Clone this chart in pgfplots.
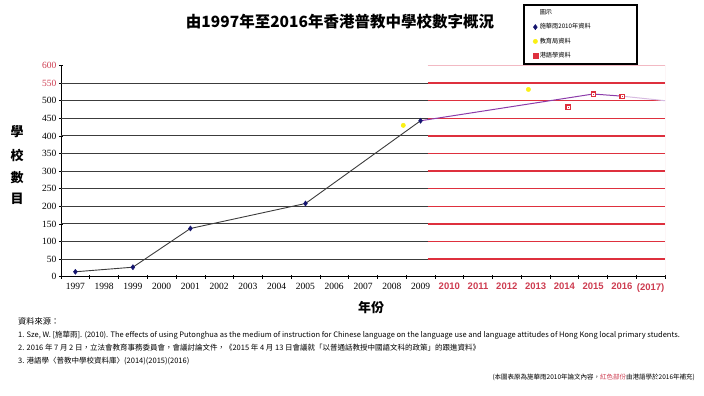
\documentclass[border=0pt]{standalone}
\usepackage{fontspec}
\usepackage{pgfplots}
\pgfplotsset{compat=1.18}
\setmainfont{Noto Sans CJK TC}
\newfontfamily\cjk{Noto Sans CJK TC}
\newfontfamily\tnr{Liberation Serif}
\newfontfamily\lsans{Liberation Sans}
\definecolor{gridred}{RGB}{222,48,62}
\definecolor{lightpink}{RGB}{242,185,195}
\definecolor{darkgrid}{RGB}{60,60,60}
\definecolor{labred}{RGB}{205,60,80}
\definecolor{navyb}{RGB}{20,20,110}
\definecolor{purp}{RGB}{140,60,170}
\definecolor{yel}{RGB}{250,240,20}

\pgfplotstableread{
x y
0 14
2 27
4 137
8 208
12 443
}\szedata
\pgfplotstableread{
x y
12 443
18 519
19 513
}\purpdata
\pgfplotstableread{
x y
19 513
20.5 500
}\purpfade
\pgfplotstableread{
x y
11.4 430
15.75 532
}\edbdata
\pgfplotstableread{
x y
17.13 482
18 519
19 513
}\hkdata

\begin{document}
\begin{tikzpicture}[x=1pt,y=-1pt]
\useasboundingbox (0,0) rectangle (704,396);
\begin{axis}[
  at={(61pt,-276.7pt)}, anchor=south west,
  width=604pt, height=211.2pt, scale only axis,
  xmin=-0.5, xmax=20.5, ymin=0, ymax=600,
  axis x line*=bottom, axis y line*=left,
  axis line style={-, black, line width=0.8pt},
  xtick={0,...,20},
  xticklabels={1997,1998,1999,2000,2001,2002,2003,2004,2005,2006,2007,2008,2009,
    \textcolor{labred}{\lsans\bfseries 2010},\textcolor{labred}{\lsans\bfseries 2011},
    \textcolor{labred}{\lsans\bfseries 2012},\textcolor{labred}{\lsans\bfseries 2013},
    \textcolor{labred}{\lsans\bfseries 2014},\textcolor{labred}{\lsans\bfseries 2015},
    \textcolor{labred}{\lsans\bfseries 2016},\textcolor{labred}{\lsans\bfseries (2017)}},
  ytick={0,50,...,600},
  yticklabels={0,50,100,150,200,250,300,350,400,450,500,\textcolor{labred}{550},\textcolor{labred}{600}},
  minor xtick={-0.5,0.5,...,20.5},
  minor ytick={0,50,...,600},
  major tick length=0pt,
  minor tick length=4pt,
  tick align=center,
  minor tick style={black, line width=0.6pt},
  tick label style={font=\tnr\fontsize{9.5}{10}\selectfont},
  xticklabel style={yshift=-3pt, inner xsep=0pt},
  yticklabel style={xshift=-1pt},
  legend style={at={(0.765,1.291)}, anchor=north west, draw=black, line width=1.5pt,
    font=\cjk\fontsize{6.2}{7}\selectfont, inner sep=3pt, row sep=3.5pt,
    nodes={text width=92pt}},
  legend cell align=left,
  legend image post style={line width=0.4pt},
]
\addlegendimage{empty legend}
\addlegendentry{圖示}
\pgfplotsinvokeforeach{50,100,...,550}{
  \draw[darkgrid, line width=1.1pt] (axis cs:-0.5,#1) -- (axis cs:12.25,#1);
  \draw[gridred, line width=1.3pt] (axis cs:12.25,#1) -- (axis cs:20.5,#1);
}
\draw[lightpink, line width=1pt] (axis cs:12.25,600) -- (axis cs:20.5,600) -- (axis cs:20.5,0);
\addplot[darkgrid, line width=0.9pt, forget plot] table {\szedata};
\addplot[purp, line width=1pt, forget plot] table {\purpdata};
\addplot[purp!35, line width=1pt, forget plot] table {\purpfade};
\addplot[only marks, mark=diamond*, mark size=2.6pt, mark options={fill=navyb, draw=navyb}] table {\szedata};
\addlegendentry{施華雨2010年資料}
\addplot[only marks, mark=*, mark size=2.2pt, mark options={fill=yel, draw=yel}] table {\edbdata};
\addlegendentry{教育局資料}
\addplot[only marks, mark=square*, mark size=2.4pt, mark options={fill=gridred, draw=gridred}] table {\hkdata};
\addlegendentry{港語學資料}
\addplot[only marks, mark=square, mark size=0.9pt, mark options={draw=white, line width=0.3pt}, forget plot] table {\hkdata};
\end{axis}

\node[font=\cjk\bfseries\fontsize{15.5}{16}\selectfont] at (340,21.7) {由1997年至2016年香港普教中學校數字概況};
\foreach \c/\yy in {學/131.7, 校/155, 數/178, 目/199}
  \node[font=\cjk\bfseries\fontsize{13}{13}\selectfont] at (17,\yy) {\c};
\node[font=\cjk\bfseries\fontsize{13}{13}\selectfont] at (371,308) {年份};

\node[anchor=west, inner sep=0pt, font=\cjk\fontsize{8.2}{9}\selectfont] at (18,321) {資料來源：};
\node[anchor=west, inner sep=0pt, font=\cjk\fontsize{7.5}{8}\selectfont] at (18,335) {1. Sze, W. [施華雨]. (2010). The effects of using Putonghua as the medium of instruction for Chinese language on the language use and language attitudes of Hong Kong local primary students.};
\node[anchor=west, inner sep=0pt, font=\cjk\fontsize{7.5}{8}\selectfont] at (18,348) {2. 2016 年 7 月 2 日，立法會教育事務委員會，會議討論文件，《2015 年 4 月 13 日會議就「以普通話教授中國語文科的政策」的跟進資料》};
\node[anchor=west, inner sep=0pt, font=\cjk\fontsize{7.5}{8}\selectfont] at (18,361) {3. 港語學〈普教中學校資料庫〉(2014)(2015)(2016)};
\node[anchor=east, inner sep=0pt, font=\cjk\fontsize{6.5}{7}\selectfont] at (695,377) {(本圖表原為施華雨2010年論文內容，\textcolor{labred}{紅色部份}由港語學於2016年補充)};
\end{tikzpicture}
\end{document}
